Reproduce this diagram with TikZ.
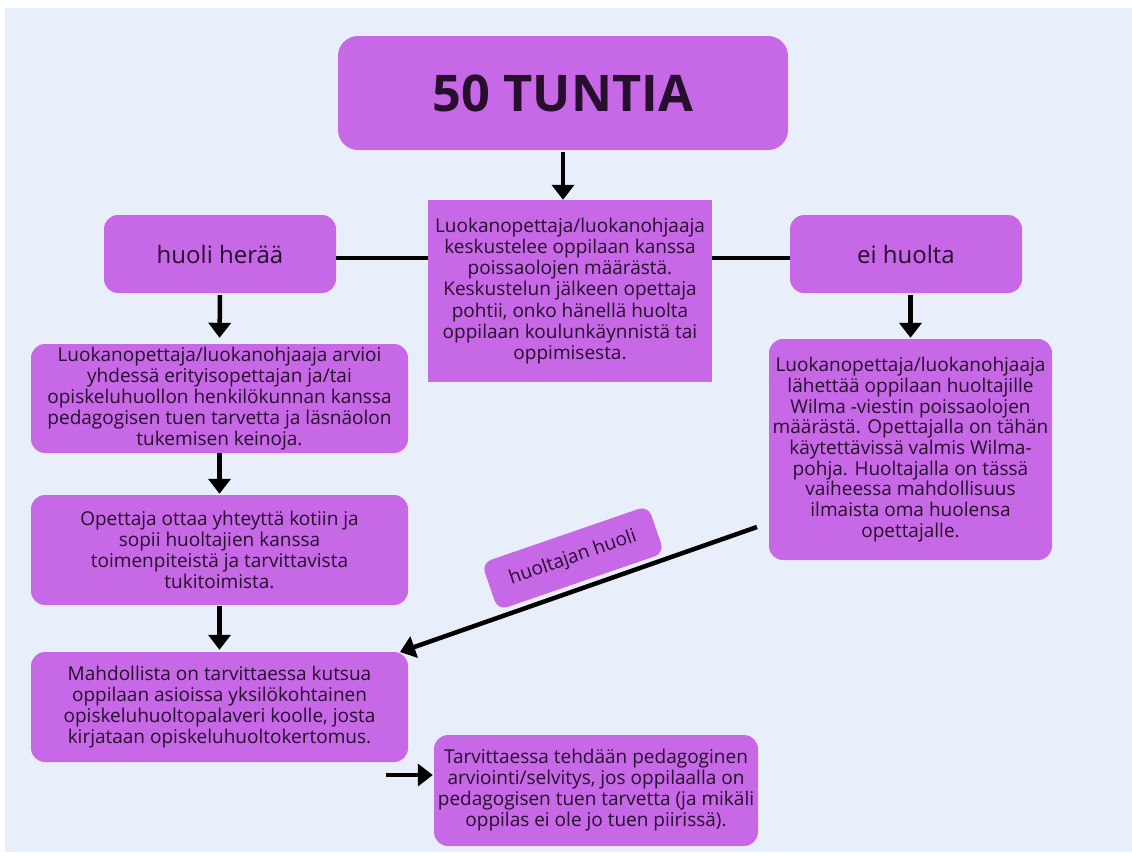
\documentclass[tikz,border=0pt]{standalone}
\usepackage{fontspec}
\setmainfont{Open Sans}
\usetikzlibrary{arrows.meta}
\definecolor{bgc}{RGB}{233,239,250}
\definecolor{boxc}{RGB}{199,104,230}
\definecolor{txtc}{RGB}{38,14,44}
\tikzset{
  pbox/.style={fill=boxc, rounded corners=14pt, text=txtc, align=center, inner sep=0pt,
    font=\fontsize{19}{21}\selectfont},
  sbox/.style={pbox, rounded corners=0pt},
  arr/.style={line width=4.5pt, -{Triangle[width=22pt,length=15pt]}},
  plain/.style={line width=4.5pt},
}
\begin{document}
\begin{tikzpicture}[x=1pt,y=-1pt]
\useasboundingbox (0,0) rectangle (1132,855);
\fill[white] (0,0) rectangle (1132,855);
\fill[bgc] (5,8) rectangle (1132,852);

\node[pbox, rounded corners=20pt, minimum width=450pt, minimum height=114pt,
  font=\fontsize{50.5}{60}\bfseries\selectfont] (title) at (563,93) {50 TUNTIA};

\node[sbox, minimum width=284pt, minimum height=182pt, font=\fontsize{19}{21.3}\selectfont] (center) at (570,291)
  {Luokanopettaja/luokanohjaaja\\keskustelee oppilaan kanssa\\poissaolojen määrästä.\\Keskustelun jälkeen opettaja\\pohtii, onko hänellä huolta\\oppilaan koulunkäynnistä tai\\oppimisesta.};

\node[pbox, minimum width=232pt, minimum height=78pt, font=\fontsize{24}{28}\selectfont] (huoli) at (220,254) {huoli herää};
\node[pbox, minimum width=232pt, minimum height=78pt, font=\fontsize{24}{28}\selectfont] (ei) at (906,254) {ei huolta};

\node[pbox, minimum width=377pt, minimum height=109pt] (b1) at (219.5,398.5)
  {Luokanopettaja/luokanohjaaja arvioi\\yhdessä erityisopettajan ja/tai\\opiskeluhuollon henkilökunnan kanssa\\pedagogisen tuen tarvetta ja läsnäolon\\tukemisen keinoja.};

\node[pbox, minimum width=377pt, minimum height=110pt] (b2) at (219.5,550)
  {Opettaja ottaa yhteyttä kotiin ja\\sopii huoltajien kanssa\\toimenpiteistä ja tarvittavista\\tukitoimista.};

\node[pbox, minimum width=377pt, minimum height=110pt] (b3) at (219.5,707)
  {Mahdollista on tarvittaessa kutsua\\oppilaan asioissa yksilökohtainen\\opiskeluhuoltopalaveri koolle, josta\\kirjataan opiskeluhuoltokertomus.};

\node[pbox, minimum width=324pt, minimum height=111pt] (b4) at (596,790.5)
  {Tarvittaessa tehdään pedagoginen\\arviointi/selvitys, jos oppilaalla on\\pedagogisen tuen tarvetta (ja mikäli\\oppilas ei ole jo tuen piirissä).};

\node[pbox, minimum width=283pt, minimum height=221pt, font=\fontsize{19}{20.7}\selectfont] (r1) at (910.5,449.5)
  {Luokanopettaja/luokanohjaaja\\lähettää oppilaan huoltajille\\Wilma -viestin poissaolojen\\määrästä. Opettajalla on tähän\\käytettävissä valmis Wilma-\\pohja. Huoltajalla on tässä\\vaiheessa mahdollisuus\\ilmaista oma huolensa\\opettajalle.};

% connectors
\draw[arr, shorten <=2pt] (title.south) -- (title.south |- center.north);
\draw[plain] (huoli.east |- 0,258) -- (center.west |- 0,258);
\draw[plain] (center.east |- 0,258) -- (ei.west |- 0,258);
\draw[arr, shorten <=2pt, shorten >=6pt] (huoli.south) -- (b1.north);
\draw[arr, shorten >=1pt] (b1.south) -- (b2.north);
\draw[arr, shorten <=1pt, shorten >=2pt] (b2.south) -- (b3.north);
\draw[arr, shorten <=2pt, shorten >=1pt] (ei.south -| r1.north) -- (r1.north);
\coordinate (dstart) at (757,527);
\coordinate (b3end) at (400,652);
\draw[arr] (dstart) -- (b3end);
\coordinate (hstart) at (386,775);
\draw[arr, shorten >=1pt] (hstart) -- (hstart -| b4.west);

\node[pbox, rounded corners=10pt, rotate=19, minimum width=176pt, minimum height=50pt,
  font=\fontsize{19}{22}\selectfont] (lbl) at (573,558) {huoltajan huoli};
\end{tikzpicture}
\end{document}
